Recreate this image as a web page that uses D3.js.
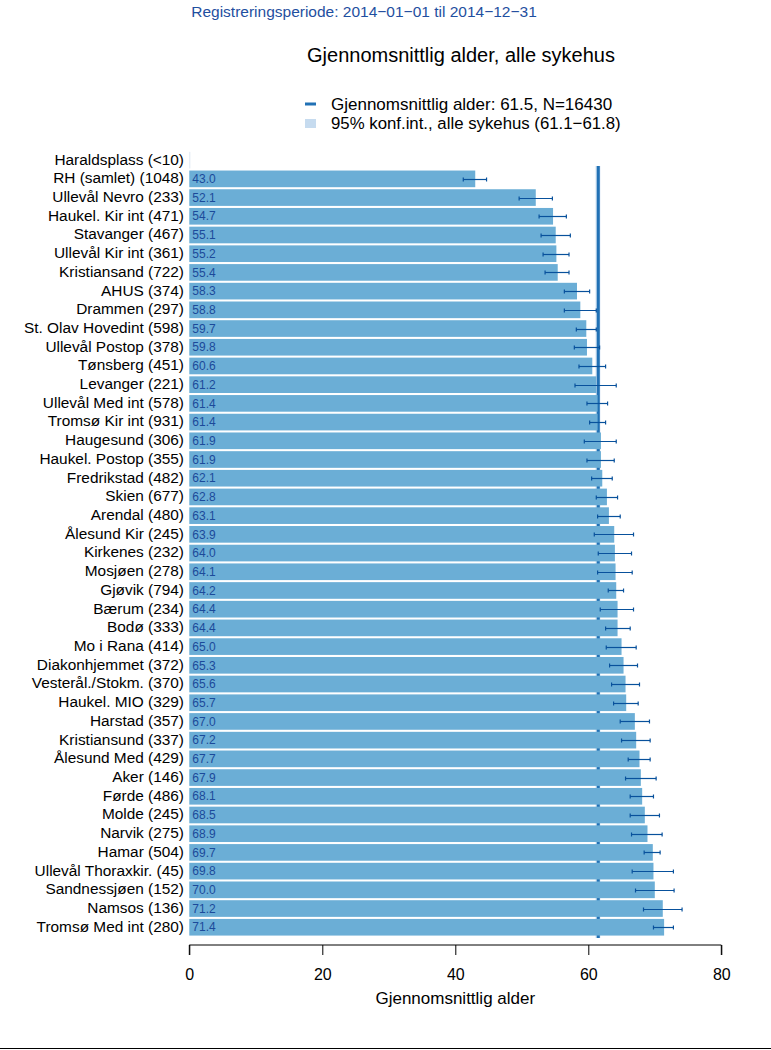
<!DOCTYPE html>
<html>
<head>
<meta charset="utf-8">
<script src="https://cdn.jsdelivr.net/npm/d3@7"></script>
<style>
  html, body { margin: 0; padding: 0; background: #fff; }
  svg { display: block; font-family: "Liberation Sans", Arial, sans-serif; }
</style>
</head>
<body>
<svg id="chart" width="771" height="1050"></svg>
<script>
// ---- data ----
const hospitals = ["Haraldsplass","RH (samlet)","Ullevål Nevro","Haukel. Kir int","Stavanger","Ullevål Kir int","Kristiansand","AHUS","Drammen","St. Olav Hovedint","Ullevål Postop","Tønsberg","Levanger","Ullevål Med int","Tromsø Kir int","Haugesund","Haukel. Postop","Fredrikstad","Skien","Arendal","Ålesund Kir","Kirkenes","Mosjøen","Gjøvik","Bærum","Bodø","Mo i Rana","Diakonhjemmet","Vesterål./Stokm.","Haukel. MIO","Harstad","Kristiansund","Ålesund Med","Aker","Førde","Molde","Narvik","Hamar","Ullevål Thoraxkir.","Sandnessjøen","Namsos","Tromsø Med int"];
const counts = ["<10","1048","233","471","467","361","722","374","297","598","378","451","221","578","931","306","355","482","677","480","245","232","278","794","234","333","414","372","370","329","357","337","429","146","486","245","275","504","45","152","136","280"];
const means = [null,43.0,52.1,54.7,55.1,55.2,55.4,58.3,58.8,59.7,59.8,60.6,61.2,61.4,61.4,61.9,61.9,62.1,62.8,63.1,63.9,64.0,64.1,64.2,64.4,64.4,65.0,65.3,65.6,65.7,67.0,67.2,67.7,67.9,68.1,68.5,68.9,69.7,69.8,70.0,71.2,71.4];
const ciLow  = [null,41.2,49.6,52.6,52.9,53.2,53.5,56.4,56.4,58.2,57.9,58.6,58.0,59.8,60.2,59.4,59.8,60.5,61.2,61.4,60.9,61.5,61.4,63.0,61.8,62.6,62.7,63.2,63.5,63.8,64.8,65.0,66.0,65.6,66.3,66.3,66.5,68.4,66.6,67.1,68.3,69.8];
const ciHigh = [null,44.7,54.6,56.7,57.3,57.1,57.1,60.2,61.2,61.2,61.7,62.6,64.2,62.9,62.6,64.2,63.9,63.6,64.4,64.8,66.8,66.5,66.6,65.3,66.8,66.3,67.2,67.4,67.7,67.5,69.2,69.3,69.3,70.2,69.8,70.7,71.1,70.8,72.8,72.9,74.1,72.8];
const overallMean = 61.5;
const overallN = 16430;
const overallCI = [61.1, 61.8];
const xTicks = [0, 20, 40, 60, 80];
const subtitle = "Registreringsperiode: 2014\u221201\u221201 til 2014\u221212\u221231";
const title = "Gjennomsnittlig alder, alle sykehus";
const xTitle = "Gjennomsnittlig alder";

// ---- layout ----
const svg = d3.select("#chart");
const rows = hospitals.map((h, i) => ({
  label: h + " (" + counts[i] + ")",
  key: h + "_" + i,
  mean: means[i], lo: ciLow[i], hi: ciHigh[i]
}));

const x = d3.scaleLinear().domain([0, 80]).range([189.3, 721.3]);
const y = d3.scaleBand().domain(rows.map(r => r.key)).range([150.8, 936.6])
  .paddingInner(0.11).paddingOuter(0.055);

const barColor = "#6baed6";
const lineColor = "#2171b5";
const ciColor = "#c6dbef";
const errColor = "#08519c";
const valColor = "#1b4a9a";

// subtitle & title
svg.append("text").attr("x", 364).attr("y", 12).attr("dy", "0.35em")
  .attr("text-anchor", "middle").attr("font-size", 15.5).attr("fill", "#1f4fa0")
  .text(subtitle);
svg.append("text").attr("x", 461).attr("y", 55).attr("dy", "0.35em")
  .attr("text-anchor", "middle").attr("font-size", 20).attr("fill", "#000")
  .text(title);

// legend
const lg = svg.append("g");
lg.append("line").attr("x1", 305).attr("x2", 316).attr("y1", 104).attr("y2", 104)
  .attr("stroke", lineColor).attr("stroke-width", 3);
lg.append("rect").attr("x", 305).attr("y", 119).attr("width", 11).attr("height", 9)
  .attr("fill", ciColor);
lg.append("text").attr("x", 331).attr("y", 104).attr("dy", "0.35em")
  .attr("font-size", 17).text("Gjennomsnittlig alder: " + overallMean.toFixed(1) + ", N=" + overallN);
lg.append("text").attr("x", 331).attr("y", 123).attr("dy", "0.35em")
  .attr("font-size", 16.8).text("95% konf.int., alle sykehus (" + overallCI[0].toFixed(1) + "\u2212" + overallCI[1].toFixed(1) + ")");

// overall CI band and mean line (behind bars)
const lineTop = 166, lineBot = 938;
svg.append("rect").attr("x", x(overallCI[0])).attr("y", lineTop)
  .attr("width", x(overallCI[1]) - x(overallCI[0])).attr("height", lineBot - lineTop)
  .attr("fill", ciColor);
svg.append("line").attr("x1", x(overallMean)).attr("x2", x(overallMean))
  .attr("y1", lineTop).attr("y2", lineBot)
  .attr("stroke", lineColor).attr("stroke-width", 3);

// category labels
svg.append("g").selectAll("text").data(rows).join("text")
  .attr("x", 184).attr("y", d => y(d.key) + y.bandwidth() / 2 - 1).attr("dy", "0.35em")
  .attr("text-anchor", "end").attr("font-size", 15.4).attr("fill", "#000")
  .text(d => d.label);

// empty row marker (n<10)
svg.append("g").selectAll("line").data(rows.filter(r => r.mean === null)).join("line")
  .attr("x1", x(0) + 0.5).attr("x2", x(0) + 0.5)
  .attr("y1", d => y(d.key)).attr("y2", d => y(d.key) + y.bandwidth())
  .attr("stroke", "#dde7f2").attr("stroke-width", 1);

const data = rows.filter(r => r.mean !== null);

// bars
svg.append("g").selectAll("rect").data(data).join("rect")
  .attr("x", x(0)).attr("y", d => y(d.key))
  .attr("width", d => x(d.mean) - x(0)).attr("height", y.bandwidth())
  .attr("fill", barColor);

// value labels
svg.append("g").selectAll("text").data(data).join("text")
  .attr("x", x(0) + 3).attr("y", d => y(d.key) + y.bandwidth() / 2).attr("dy", "0.35em")
  .attr("font-size", 12).attr("fill", valColor)
  .text(d => d.mean.toFixed(1));

// error bars
const eb = svg.append("g").attr("stroke", errColor).attr("stroke-width", 1.2).attr("fill", "none");
data.forEach(d => {
  const cy = Math.round(y(d.key) + y.bandwidth() / 2) + 0.5;
  eb.append("line").attr("x1", x(d.lo)).attr("x2", x(d.hi)).attr("y1", cy).attr("y2", cy);
  eb.append("line").attr("x1", x(d.lo)).attr("x2", x(d.lo)).attr("y1", cy - 2).attr("y2", cy + 2);
  eb.append("line").attr("x1", x(d.hi)).attr("x2", x(d.hi)).attr("y1", cy - 2).attr("y2", cy + 2);
});

// x axis
const axis = d3.axisBottom(x).tickValues(xTicks).tickSize(10).tickPadding(14).tickFormat(d3.format("d"));
const ag = svg.append("g").attr("transform", "translate(0,945)").call(axis);
ag.select(".domain").attr("stroke", "#000").attr("d", `M${x(0)},10V0H${x(80)}V10`);
ag.selectAll(".tick line").attr("stroke", "#000");
ag.selectAll(".tick text").attr("font-size", 16).attr("fill", "#000")
  .attr("font-family", "'Liberation Sans', Arial, sans-serif");

svg.append("text").attr("x", x(40)).attr("y", 998).attr("dy", "0.35em")
  .attr("text-anchor", "middle").attr("font-size", 17).attr("fill", "#000")
  .text(xTitle);

// bottom rule
svg.append("line").attr("x1", 0).attr("x2", 771).attr("y1", 1048.5).attr("y2", 1048.5)
  .attr("stroke", "#000").attr("stroke-width", 1);
</script>
</body>
</html>
